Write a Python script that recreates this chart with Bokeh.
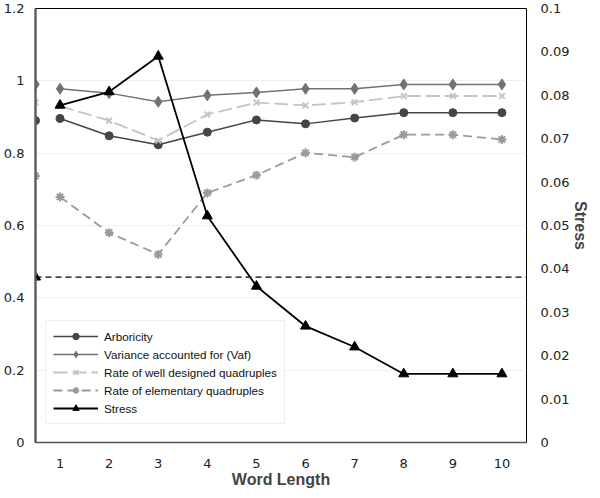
from bokeh.plotting import figure
from bokeh.models import Range1d, LinearAxis, Span, Legend, LegendItem, FixedTicker
from bokeh.embed import file_html
from bokeh.resources import INLINE

# ---- data ----
word_length = [1, 2, 3, 4, 5, 6, 7, 8, 9, 10]
arboricity = [0.896, 0.848, 0.823, 0.858, 0.892, 0.881, 0.897, 0.912, 0.912, 0.912]
vaf = [0.978, 0.966, 0.942, 0.960, 0.968, 0.978, 0.978, 0.990, 0.990, 0.990]
well_designed = [0.930, 0.890, 0.835, 0.907, 0.940, 0.932, 0.941, 0.958, 0.958, 0.958]
elementary = [0.679, 0.580, 0.520, 0.690, 0.739, 0.801, 0.789, 0.851, 0.851, 0.838]
stress = [0.0777, 0.0808, 0.0890, 0.0522, 0.0360, 0.0268, 0.0220, 0.0158, 0.0158, 0.0158]

# reference values drawn at the left edge of the axis
ref_x = [0.5]
ref_arboricity = [0.890]
ref_vaf = [0.990]
ref_well = [0.940]
ref_elementary = [0.737]
ref_stress = [0.0381]
stress_baseline = 0.0381

left_ticks = [0, 0.2, 0.4, 0.6, 0.8, 1.0, 1.2]
left_labels = {0: "0", 0.2: "0.2", 0.4: "0.4", 0.6: "0.6", 0.8: "0.8", 1.0: "1", 1.2: "1.2"}
right_ticks = [0, 0.01, 0.02, 0.03, 0.04, 0.05, 0.06, 0.07, 0.08, 0.09, 0.1]
right_labels = {t: ("0" if t == 0 else ("0.1" if t == 0.1 else f"{t:.2f}")) for t in right_ticks}

TICK_FONT = "DejaVu Sans"

p = figure(width=592, height=490, output_backend="svg", toolbar_location=None,
           x_range=Range1d(0.5, 10.5), y_range=Range1d(0, 1.2),
           min_border_left=0, min_border_right=0, min_border_top=8, min_border_bottom=0)
p.outline_line_color = "black"
p.outline_line_width = 1
p.background_fill_color = "white"
p.border_fill_color = "white"

p.extra_y_ranges = {"stress": Range1d(0, 0.1)}

# axes styling
p.xaxis.ticker = FixedTicker(ticks=word_length)
p.xaxis.axis_label = "Word Length"
p.xaxis.axis_label_text_font = "Liberation Sans"
p.xaxis.axis_label_text_font_style = "bold"
p.xaxis.axis_label_text_font_size = "16px"
p.xaxis.axis_label_standoff = 0
p.xaxis.major_label_text_font = TICK_FONT
p.xaxis.major_label_text_font_size = "13px"
p.xaxis.major_label_text_color = "#222222"
p.xaxis.major_label_standoff = 10
p.xaxis.axis_line_color = "#555555"
p.xaxis.axis_line_width = 1.5
p.xaxis.major_tick_line_color = None
p.xaxis.minor_tick_line_color = None

p.yaxis.ticker = FixedTicker(ticks=left_ticks)
p.yaxis.major_label_overrides = left_labels
p.yaxis.major_label_text_font = TICK_FONT
p.yaxis.major_label_text_font_size = "13px"
p.yaxis.major_label_text_color = "#222222"
p.yaxis.major_label_standoff = 5
p.yaxis.axis_line_color = "#606060"
p.yaxis.axis_line_width = 2.5
p.yaxis.major_tick_line_color = None
p.yaxis.minor_tick_line_color = None

right_axis = LinearAxis(y_range_name="stress", axis_label="Stress",
                        ticker=FixedTicker(ticks=right_ticks))
right_axis.major_label_overrides = right_labels
right_axis.major_label_text_font = TICK_FONT
right_axis.major_label_text_font_size = "13px"
right_axis.major_label_text_color = "#222222"
right_axis.major_label_standoff = 8
right_axis.axis_line_color = None
right_axis.major_tick_line_color = None
right_axis.minor_tick_line_color = None
right_axis.axis_label_text_font = "Liberation Sans"
right_axis.axis_label_text_font_style = "bold"
right_axis.axis_label_text_font_size = "16px"
right_axis.axis_label_standoff = 0
p.add_layout(right_axis, "right")

p.xgrid.grid_line_color = None
p.ygrid.grid_line_color = "#efefef"
p.ygrid.ticker = FixedTicker(ticks=left_ticks)

# dashed baseline on stress axis
p.add_layout(Span(location=stress_baseline, dimension="width", y_range_name="stress",
                  line_color="black", line_dash="6 4", line_width=1.3))

C_ARB = "#454545"
C_VAF = "#727272"
C_WELL = "#c4c4c4"
C_ELEM = "#9a9a9a"
C_STRESS = "#000000"

r_arb_l = p.line(word_length, arboricity, line_color=C_ARB, line_width=1.5)
r_arb_m = p.scatter(word_length, arboricity, marker="circle", size=8, color=C_ARB)
p.scatter(ref_x, ref_arboricity, marker="circle", size=8, color=C_ARB)

r_vaf_l = p.line(word_length, vaf, line_color=C_VAF, line_width=1.5)
r_vaf_m = p.scatter(word_length, vaf, marker="diamond", size=11, color=C_VAF)
p.scatter(ref_x, ref_vaf, marker="diamond", size=11, color=C_VAF)

r_well_l = p.line(word_length, well_designed, line_color=C_WELL, line_width=1.8, line_dash="14 5")
r_well_m = p.scatter(word_length, well_designed, marker="x", size=8, line_color=C_WELL, line_width=2)
p.scatter(ref_x, ref_well, marker="x", size=8, line_color=C_WELL, line_width=2)

r_elem_l = p.line(word_length, elementary, line_color=C_ELEM, line_width=1.8, line_dash="9 5")
r_elem_m = p.scatter(word_length, elementary, marker="asterisk", size=9, line_color=C_ELEM, line_width=2)
p.scatter(ref_x, ref_elementary, marker="asterisk", size=9, line_color=C_ELEM, line_width=2)

r_st_l = p.line(word_length, stress, line_color=C_STRESS, line_width=1.8, y_range_name="stress")
r_st_m = p.scatter(word_length, stress, marker="triangle", size=10, color=C_STRESS, y_range_name="stress")
p.scatter(ref_x, ref_stress, marker="triangle", size=10, color=C_STRESS, y_range_name="stress")

legend = Legend(items=[
    LegendItem(label="Arboricity", renderers=[r_arb_l, r_arb_m]),
    LegendItem(label="Variance accounted for (Vaf)", renderers=[r_vaf_l, r_vaf_m]),
    LegendItem(label="Rate of well designed quadruples", renderers=[r_well_l, r_well_m]),
    LegendItem(label="Rate of elementary quadruples", renderers=[r_elem_l, r_elem_m]),
    LegendItem(label="Stress", renderers=[r_st_l, r_st_m]),
], location=(10, 18))
legend.label_text_font = "Liberation Sans"
legend.label_text_font_size = "11.7px"
legend.label_text_color = "#111111"
legend.glyph_width = 45
legend.glyph_height = 16
legend.label_standoff = 6
legend.label_height = 16
legend.spacing = 2
legend.padding = 7
legend.margin = 0
legend.border_line_color = "#e0e0e0"
legend.background_fill_alpha = 1.0
p.add_layout(legend, "center")

open("out.html", "w").write(file_html(p, INLINE))
